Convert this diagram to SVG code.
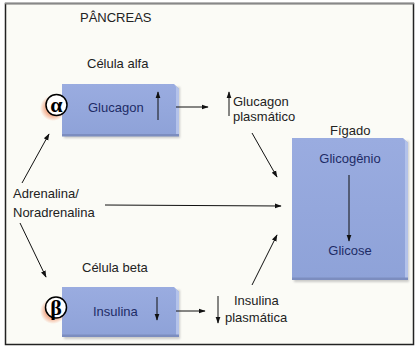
<svg xmlns="http://www.w3.org/2000/svg" width="415" height="347" viewBox="0 0 415 347">
  <defs>
    <marker id="ah" viewBox="0 0 10 10" refX="9" refY="5" markerWidth="7" markerHeight="7" markerUnits="userSpaceOnUse" orient="auto">
      <path d="M0,1.5 L10,5 L0,8.5 Z" fill="#111"/>
    </marker>
    <linearGradient id="face" x1="0" y1="0" x2="0" y2="1">
      <stop offset="0" stop-color="#9aace0"/>
      <stop offset="1" stop-color="#8ea2d8"/>
    </linearGradient>
    <filter id="soft" x="-10%" y="-10%" width="130%" height="130%">
      <feGaussianBlur stdDeviation="1.2"/>
    </filter>
    <radialGradient id="glow" cx="0.5" cy="0.5" r="0.5">
      <stop offset="0.6" stop-color="#f3a27e" stop-opacity="0.8"/>
      <stop offset="1" stop-color="#f3a27e" stop-opacity="0"/>
    </radialGradient>
  </defs>
  <style>
    text { font-family: "Liberation Sans", Arial, sans-serif; font-size: 13px; fill: #222; }
    .in { fill: #1e2c66; }
    .ln { stroke: #111; stroke-width: 1; fill: none; }
    .face { fill: url(#face); }
    .bevel { fill: #b3c2ea; }
    .edge { fill: #7c8dbf; }
    .shadow { fill: #9a9a9a; opacity: 0.5; filter: url(#soft); }
    text.greek { font-family: "Liberation Serif", "DejaVu Serif", serif; font-weight: bold; font-size: 22px; fill: #000; }
  </style>

  <!-- page -->
  <rect x="0" y="0" width="415" height="347" fill="#ffffff"/>
  <rect x="5.5" y="3.5" width="408" height="341" fill="#fbfbf6" stroke="#222" stroke-width="1.5"/>
  <line x1="5" y1="3.5" x2="414" y2="3.5" stroke="#888" stroke-width="1.5"/>

  <text x="80" y="22">PÂNCREAS</text>

  <!-- alpha cell -->
  <g id="alfa">
    <text x="87" y="68">Célula alfa</text>
    <rect class="shadow" x="64" y="87" width="116" height="51"/>
    <path class="face" d="M62,84 H174 L179,89 V136 H62 Z"/>
    <path class="bevel" d="M174,84 L179,89 V136 H176 V87 Z"/>
    <rect class="edge" x="62" y="134" width="117" height="2.5"/>
    <text class="in" x="88" y="112">Glucagon</text>
    <line class="ln" x1="158" y1="120" x2="158" y2="92" marker-end="url(#ah)"/>
    <circle cx="53" cy="108" r="13" fill="url(#glow)"/>
    <circle cx="56.5" cy="105" r="10.5" fill="#fff" stroke="#000" stroke-width="1.5"/>
    <text class="greek" x="56.5" y="112" text-anchor="middle">α</text>
  </g>

  <!-- beta cell -->
  <g id="beta">
    <text x="82" y="272">Célula beta</text>
    <rect class="shadow" x="64" y="290" width="116" height="49"/>
    <path class="face" d="M62,287 H174 L179,292 V337 H62 Z"/>
    <path class="bevel" d="M174,287 L179,292 V337 H176 V290 Z"/>
    <rect class="edge" x="62" y="334.5" width="117" height="2.5"/>
    <text class="in" x="93" y="316">Insulina</text>
    <line class="ln" x1="157" y1="297" x2="157" y2="320" marker-end="url(#ah)"/>
    <circle cx="53" cy="311" r="13" fill="url(#glow)"/>
    <circle cx="56" cy="307.5" r="10.5" fill="#fff" stroke="#000" stroke-width="1.5"/>
    <text class="greek" x="56" y="314.5" text-anchor="middle">β</text>
  </g>

  <!-- liver -->
  <g id="figado">
    <text x="330" y="135">Fígado</text>
    <rect class="shadow" x="294" y="141" width="115" height="141"/>
    <path class="face" d="M292,138 H403 L408,143 V280 H292 Z"/>
    <path class="bevel" d="M403,138 L408,143 V280 H405 V141 Z"/>
    <rect class="edge" x="292" y="277.5" width="116" height="2.5"/>
    <text class="in" x="350" y="163" text-anchor="middle">Glicogênio</text>
    <line class="ln" x1="349" y1="175" x2="349" y2="241" marker-end="url(#ah)"/>
    <text class="in" x="350" y="255" text-anchor="middle">Glicose</text>
  </g>

  <!-- hormone labels -->
  <g id="adrenalina">
    <text x="13" y="198">Adrenalina/</text>
    <text x="13" y="217">Noradrenalina</text>
  </g>
  <g id="glucagon-plasma">
    <text x="233" y="106">Glucagon</text>
    <text x="233" y="121">plasmático</text>
    <line class="ln" x1="229" y1="116" x2="229" y2="92" marker-end="url(#ah)"/>
  </g>
  <g id="insulina-plasma">
    <text x="234" y="305">Insulina</text>
    <text x="225" y="322">plasmática</text>
    <line class="ln" x1="218" y1="296" x2="218" y2="323" marker-end="url(#ah)"/>
  </g>

  <!-- connectors -->
  <g id="connectors">
    <line class="ln" x1="22" y1="183" x2="49" y2="134" marker-end="url(#ah)"/>
    <line class="ln" x1="20" y1="223" x2="46" y2="277" marker-end="url(#ah)"/>
    <line class="ln" x1="105" y1="205" x2="281" y2="206" marker-end="url(#ah)"/>
    <line class="ln" x1="176" y1="107" x2="208" y2="107" marker-end="url(#ah)"/>
    <line class="ln" x1="176" y1="311" x2="205" y2="311" marker-end="url(#ah)"/>
    <line class="ln" x1="252" y1="133" x2="277" y2="177" marker-end="url(#ah)"/>
    <line class="ln" x1="252" y1="285" x2="277" y2="235" marker-end="url(#ah)"/>
  </g>
</svg>
